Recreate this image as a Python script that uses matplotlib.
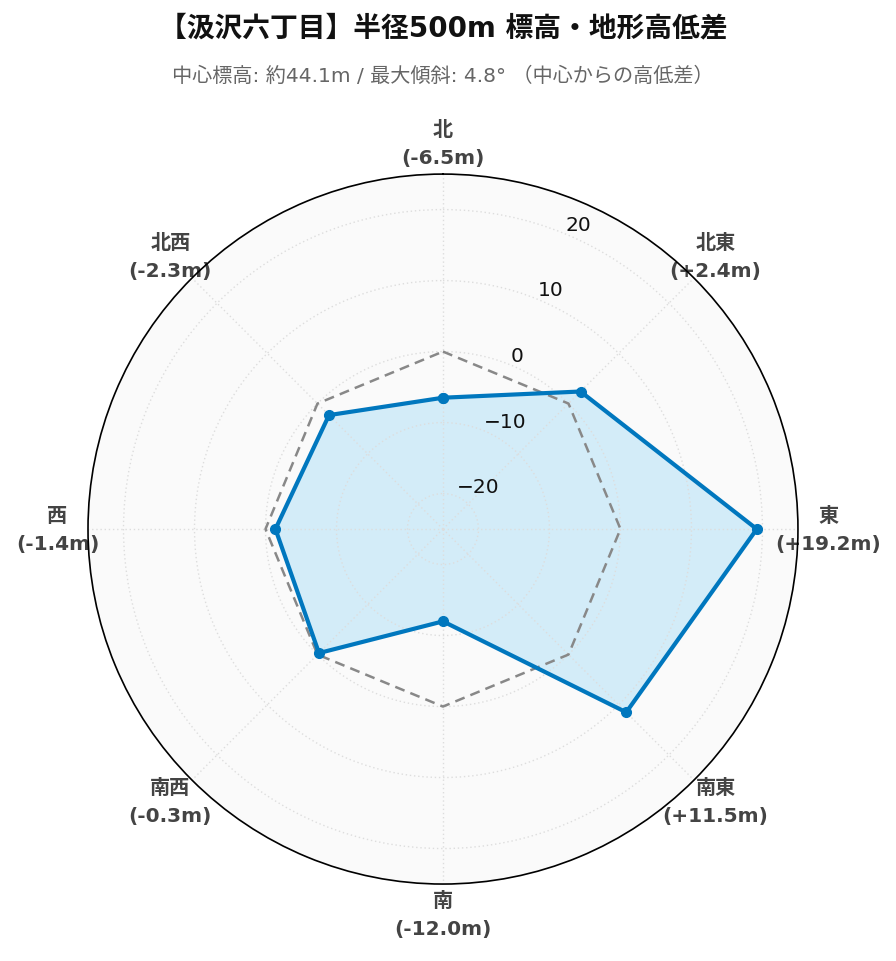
import numpy as np
import matplotlib
matplotlib.use("Agg")
from matplotlib import pyplot as plt

plt.rcParams['font.family'] = ['DejaVu Sans', 'Noto Sans CJK JP']

# data
directions = ["北", "北東", "東", "南東", "南", "南西", "西", "北西"]
diffs = [-6.5, 2.4, 19.2, 11.5, -12.0, -0.3, -1.4, -2.3]
rticks = [-20, -10, 0, 10, 20]
title = "【汲沢六丁目】半径500m 標高・地形高低差"
subtitle = "中心標高: 約44.1m / 最大傾斜: 4.8° （中心からの高低差）"

theta = np.deg2rad(np.arange(len(directions)) * 45.0)
th_c = np.append(theta, theta[0])
v_c = np.append(diffs, diffs[0])

fig = plt.figure(figsize=(8.96, 9.62), dpi=100)
ax = fig.add_axes([0.0982, 0.080, 0.7924, 0.738], projection='polar')
ax.set_theta_zero_location('N')
ax.set_theta_direction(-1)
ax.set_ylim(-25, 25)
ax.set_facecolor('#fafafa')
ax.set_axisbelow(False)

# zero reference
ax.plot(th_c, np.zeros_like(th_c), color='#888888', lw=1.8, ls=(0, (4, 2.5)), zorder=3)
ax.fill(th_c, v_c, color='#d3ecf8', zorder=2)
ax.plot(th_c, v_c, color='#0077be', lw=3, marker='o', ms=7, zorder=4)

ax.set_yticks(rticks)
ax.set_yticklabels([str(t).replace('-', '\u2212') for t in rticks], fontsize=14.5, color='#111111')
ax.set_rlabel_position(22.5)
ax.set_xticks(theta)
ax.set_xticklabels([])
ax.grid(color='#dddddd', ls=(0, (1, 2)), lw=1)
ax.spines['polar'].set_color('black')
ax.spines['polar'].set_linewidth(1.2)
ax.spines['polar'].set_zorder(5)

for t, d, v in zip(theta, directions, diffs):
    ax.text(t, 29.3, f"{d}\n({v:+.1f}m)", ha='center', va='center', fontsize=14.5,
            fontweight='bold', color='#444444', linespacing=1.6, clip_on=False)

fig.text(0.4944, 0.970, title, ha='center', va='center', fontsize=20, fontweight='bold', color='#111111')
fig.text(0.4944, 0.921, subtitle, ha='center', va='center', fontsize=14.5, color='#666666')

fig.savefig('out.png', dpi=100)
